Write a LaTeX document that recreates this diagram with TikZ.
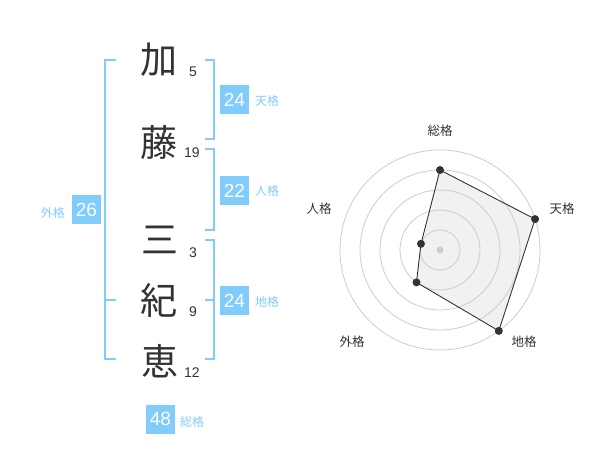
\documentclass[tikz,border=0pt]{standalone}
\usepackage{fontspec}
\setmainfont{Liberation Sans}
\newfontfamily\jp{Noto Sans CJK JP}
\definecolor{kakublue}{HTML}{80CCFA}
\definecolor{inkgray}{HTML}{333333}
\definecolor{ringgray}{HTML}{CCCCCC}
\definecolor{areagray}{HTML}{F1F1F1}
\tikzset{
  kanji/.style={text=inkgray, font=\jp\fontsize{37}{37}\selectfont, inner sep=0pt},
  strokes/.style={text=inkgray, font=\fontsize{14}{14}\selectfont, inner sep=0pt},
  kakubox/.style={fill=kakublue, text=white, font=\fontsize{19}{19}\selectfont,
    minimum width=29pt, minimum height=29pt, inner sep=0pt},
  kakuname/.style={text=kakublue, font=\jp\fontsize{12}{12}\selectfont, inner sep=0pt},
  bracket/.style={draw=kakublue, line width=2pt},
  axisname/.style={text=inkgray, font=\jp\fontsize{12.5}{12.5}\selectfont, inner sep=0pt},
  ring/.style={draw=ringgray, line width=0.8pt},
}
\begin{document}
\begin{tikzpicture}[x=1pt,y=-1pt]
                        \useasboundingbox (0,0) rectangle (600,470);

                        % Marking the name, one character per line
                        \node [kanji] (ka) at (159,60) {加};%
                        \node [kanji] (fuji) at (159,142) {藤};%
                        \node [kanji] (mi) at (160,240) {三};%
                        \node [kanji] (ki) at (159,300) {紀};%
                        \node [kanji] (e) at (160,361) {恵};%

                        % Marking stroke counts
                        \node [strokes] (n ka) at (193,72) {5};%
                        \node [strokes] (n fuji) at (192,153) {19};%
                        \node [strokes] (n mi) at (193,253) {3};%
                        \node [strokes] (n ki) at (193,312) {9};%
                        \node [strokes] (n e) at (192,373) {12};%

                        % Drawing bracket gai (outer)
                        \draw [bracket] (116,60) -- (105,60) -- (105,359) -- (116,359);%
                        \draw [bracket] (105,300) -- (116,300);%

                        % Drawing bracket ten
                        \draw [bracket] (205,60) -- (214,60) -- (214,139) -- (205,139);%

                        % Drawing bracket jin
                        \draw [bracket] (205,149) -- (214,149) -- (214,230) -- (205,230);%

                        % Drawing bracket chi
                        \draw [bracket] (205,240) -- (214,240) -- (214,359) -- (205,359);%
                        \draw [bracket] (205,300) -- (214,300);%

                        % Marking the five values
                        \node [kakubox] (ten) at (234.5,100) {24};%
                        \node [kakuname, anchor=west] (ten name) at (255,101) {天格};%
                        \node [kakubox] (jin) at (234.5,190.5) {22};%
                        \node [kakuname, anchor=west] (jin name) at (255,191) {人格};%
                        \node [kakubox] (chi) at (234.5,300.5) {24};%
                        \node [kakuname, anchor=west] (chi name) at (255,302) {地格};%
                        \node [kakubox] (gai) at (86.5,210) {26};%
                        \node [kakuname, anchor=east] (gai name) at (65,213) {外格};%
                        \node [kakubox] (sou) at (160.5,419) {48};%
                        \node [kakuname, anchor=west] (sou name) at (180,422) {総格};%

                        % Drawing the radar chart
                        \begin{scope}[shift={(440,250)}, y=1pt]
                        \coordinate (p sou) at (90:80);
                        \coordinate (p ten) at (18:100);
                        \coordinate (p chi) at (-54:100);
                        \coordinate (p gai) at (-126:40);
                        \coordinate (p jin) at (162:20);
                        \fill [areagray] (p sou) -- (p ten) -- (p chi) -- (p gai) -- (p jin) -- cycle;%
                        \foreach \r in {20,40,...,100}
                          \draw [ring] (0,0) circle (\r);%
                        \fill [ringgray] (0,0) circle (3.5);%

                        % Marking axis names
                        \node [axisname] (a sou) at (0,119) {総格};%
                        \node [axisname] (a ten) at (122,41) {天格};%
                        \node [axisname] (a chi) at (84,-92) {地格};%
                        \node [axisname] (a gai) at (-88,-92) {外格};%
                        \node [axisname] (a jin) at (-121,41) {人格};%

                        % Marking values
                        \draw [draw=inkgray, line width=0.9pt]
                          (p sou) -- (p ten) -- (p chi) -- (p gai) -- (p jin) -- cycle;%
                        \foreach \p in {sou,ten,chi,gai,jin}
                          \fill [inkgray] (p \p) circle (4);%
                        \end{scope}
\end{tikzpicture}
\end{document}
